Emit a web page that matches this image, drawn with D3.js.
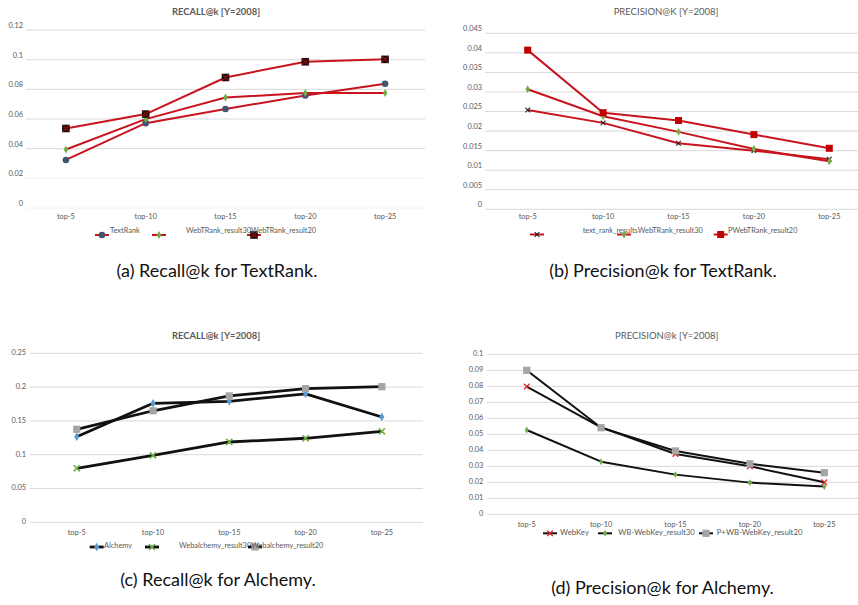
<!DOCTYPE html>
<html><head><meta charset="utf-8">
<script src="https://cdn.jsdelivr.net/npm/d3@7/dist/d3.min.js"></script>
<style>body{margin:0;background:#fff}svg{display:block}text{font-family:Lato,"Open Sans",sans-serif}</style>
</head><body>
<script>
// ---------- data ----------
const categories = ["top-5","top-10","top-15","top-20","top-25"];

// (a) Recall@k for TextRank
const aTitle = "RECALL@k [Y=2008]";
const aTicks = [0,0.02,0.04,0.06,0.08,0.1,0.12];
const aTickLabels = ["0","0.02","0.04","0.06","0.08","0.1","0.12"];
const aNames = ["TextRank","WebTRank_result30","WebTRank_result20"];
const aTextRank   = [0.0324,0.0572,0.0667,0.0759,0.0838];
const aWebTRank30 = [0.0394,0.0599,0.0745,0.0775,0.0775];
const aWebTRank20 = [0.0536,0.0633,0.0880,0.0986,0.1002];
const aCaption = "(a) Recall@k for TextRank.";

// (b) Precision@k for TextRank
const bTitle = "PRECISION@K [Y=2008]";
const bTicks = [0,0.005,0.01,0.015,0.02,0.025,0.03,0.035,0.04,0.045];
const bTickLabels = ["0","0.005","0.01","0.015","0.02","0.025","0.03","0.035","0.04","0.045"];
const bNames = ["text_rank_results","WebTRank_result30","PWebTRank_result20"];
const bTextRank   = [0.0254,0.0221,0.0169,0.0150,0.0128];
const bWebTRank30 = [0.0307,0.0238,0.0198,0.0154,0.0123];
const bWebTRank20 = [0.0407,0.0247,0.0227,0.0191,0.0156];
const bCaption = "(b) Precision@k for TextRank.";

// (c) Recall@k for Alchemy
const cTitle = "RECALL@k [Y=2008]";
const cTicks = [0,0.05,0.1,0.15,0.2,0.25];
const cTickLabels = ["0","0.05","0.1","0.15","0.2","0.25"];
const cNames = ["Alchemy","Webalchemy_result30","Webalchemy_result20"];
const cAlchemy    = [0.1266,0.1760,0.1790,0.1900,0.1558];
const cWebAlch30  = [0.0799,0.0990,0.1188,0.1243,0.1346];
const cWebAlch20  = [0.1376,0.1650,0.1870,0.1977,0.2006];
const cCaption = "(c) Recall@k for Alchemy.";

// (d) Precision@k for Alchemy
const dTitle = "PRECISION@k [Y=2008]";
const dTicks = [0,0.01,0.02,0.03,0.04,0.05,0.06,0.07,0.08,0.09,0.1];
const dTickLabels = ["0","0.01","0.02","0.03","0.04","0.05","0.06","0.07","0.08","0.09","0.1"];
const dNames = ["WebKey","WB-WebKey_result30","P+WB-WebKey_result20"];
const dWebKey     = [0.0798,0.0544,0.0377,0.0300,0.0200];
const dWBWebKey30 = [0.0527,0.0329,0.0248,0.0198,0.0173];
const dPWBWebKey20= [0.0900,0.0541,0.0396,0.0316,0.0260];
const dCaption = "(d) Precision@k for Alchemy.";

// ---------- drawing ----------
const W = 858, H = 605;
const svg = d3.select("body").append("svg").attr("width", W).attr("height", H);
const RED = "#c8141e", BLACK = "#111111";
const GRAY_TXT = "#595959";

function marker(g, kind, x, y) {
  if (kind === "circle") {
    g.append("circle").attr("cx", x).attr("cy", y).attr("r", 3.3).attr("fill", "#44546a");
  } else if (kind === "diamondG") {
    g.append("path").attr("d", d3.symbol(d3.symbolDiamond, 18)()).attr("transform", `translate(${x},${y})`).attr("fill", "#70ad47");
  } else if (kind === "blackX") {
    g.append("rect").attr("x", x-3.8).attr("y", y-3.8).attr("width", 7.6).attr("height", 7.6).attr("fill", "#1a0a0a");
    g.append("path").attr("d", d3.symbol(d3.symbolTimes, 30)()).attr("transform", `translate(${x},${y})`).attr("stroke", "#8a1010").attr("stroke-width", 1.2).attr("fill", "none");
  } else if (kind === "smallX") {
    g.append("path").attr("d", d3.symbol(d3.symbolTimes, 16)()).attr("transform", `translate(${x},${y})`).attr("stroke", "#222").attr("stroke-width", 1.1).attr("fill", "none");
  } else if (kind === "redSquare") {
    g.append("rect").attr("x", x-3.5).attr("y", y-3.5).attr("width", 7).attr("height", 7).attr("fill", "#c00000");
  } else if (kind === "blueDiamond") {
    g.append("path").attr("d", d3.symbol(d3.symbolDiamond, 22)()).attr("transform", `translate(${x},${y})`).attr("fill", "#5b9bd5");
  } else if (kind === "greenX") {
    g.append("path").attr("d", d3.symbol(d3.symbolTimes, 26)()).attr("transform", `translate(${x},${y})`).attr("stroke", "#70ad47").attr("stroke-width", 1.6).attr("fill", "none");
  } else if (kind === "graySquare") {
    g.append("rect").attr("x", x-3.6).attr("y", y-3.6).attr("width", 7.2).attr("height", 7.2).attr("fill", "#a5a5a5");
  } else if (kind === "redX") {
    g.append("path").attr("d", d3.symbol(d3.symbolTimes, 22)()).attr("transform", `translate(${x},${y})`).attr("stroke", "#e02020").attr("stroke-width", 1.3).attr("fill", "none");
  } else if (kind === "smallGreen") {
    g.append("path").attr("d", d3.symbol(d3.symbolDiamond, 14)()).attr("transform", `translate(${x},${y})`).attr("fill", "#70ad47");
  }
}

function panel(p) {
  const g = svg.append("g");
  const x = d3.scalePoint().domain(categories).range(p.xRange).padding(0.5);
  const y = d3.scaleLinear().domain([0, p.ticks[p.ticks.length-1]]).range(p.yRange);
  // gridlines
  g.selectAll(".grid").data(p.ticks).enter().append("line")
    .attr("x1", p.gridX[0]).attr("x2", p.gridX[1])
    .attr("y1", d => y(d)).attr("y2", d => y(d))
    .attr("stroke", (d,i) => (p.faint && p.faint.includes(i)) ? "#f2f2f2" : "#d9d9d9").attr("stroke-width", 1);
  // y labels
  g.selectAll(".yl").data(p.ticks).enter().append("text")
    .attr("x", p.labelX).attr("y", d => y(d) + p.labelDy)
    .attr("text-anchor", "end").attr("dominant-baseline", "middle")
    .attr("font-size", p.fs).attr("fill", GRAY_TXT)
    .text((d,i) => p.tickLabels[i]);
  // x labels
  g.selectAll(".xl").data(categories).enter().append("text")
    .attr("x", d => x(d)).attr("y", p.catY).attr("text-anchor", "middle").attr("dominant-baseline", "middle")
    .attr("font-size", p.fs).attr("fill", GRAY_TXT).text(d => d);
  // title
  g.append("text").attr("x", p.titleX).attr("y", p.titleY).attr("text-anchor", "middle")
    .attr("dominant-baseline", "middle").attr("font-size", p.titleFs).attr("font-weight", p.titleBold ? "bold" : "normal")
    .attr("fill", GRAY_TXT).text(p.title);
  // series
  const line = d3.line().x((d,i) => x(categories[i])).y(d => y(d));
  p.series.forEach(s => {
    g.append("path").datum(s.values).attr("d", line).attr("fill", "none")
      .attr("stroke", p.lineColor).attr("stroke-width", p.lineW).attr("stroke-linejoin", "round");
  });
  p.series.forEach(s => {
    s.values.forEach((v,i) => marker(g, s.marker, x(categories[i]), y(v)));
  });
  // legend
  let prevEnd = 0;
  p.series.forEach((s, i) => {
    const L = p.legend[i];
    g.append("line").attr("x1", L.mx - 7).attr("x2", L.mx + 7).attr("y1", p.legendY + L.mdy).attr("y2", p.legendY + L.mdy)
      .attr("stroke", p.lineColor).attr("stroke-width", p.lineW);
    marker(g, s.marker, L.mx, p.legendY + L.mdy);
    const tx = L.chain ? prevEnd : L.tx;
    const t = g.append("text").attr("x", tx).attr("y", p.legendY).attr("dominant-baseline", "middle")
      .attr("font-size", p.legendFs).attr("fill", GRAY_TXT).text(s.name);
    prevEnd = tx + t.node().getComputedTextLength();
  });
  // caption
  g.append("text").attr("x", p.capX).attr("y", p.capY).attr("text-anchor", "middle")
    .attr("font-size", 18).attr("fill", "#111").text(p.caption);
}

panel({
  title: aTitle, titleX: 216, titleY: 12.5, titleBold: true, titleFs: 9.4,
  ticks: aTicks, tickLabels: aTickLabels, faint: [0,1],
  xRange: [26, 425], gridX: [26, 425], yRange: [208, 30],
  labelX: 23, labelDy: -4, catY: 217, fs: 7.4,
  lineColor: RED, lineW: 2,
  series: [
    {name: aNames[0], values: aTextRank, marker: "circle"},
    {name: aNames[1], values: aWebTRank30, marker: "diamondG"},
    {name: aNames[2], values: aWebTRank20, marker: "blackX"}
  ],
  legendY: 231.5, legendFs: 7.4,
  legend: [{mx: 102, mdy: 3.5, tx: 110}, {mx: 159, mdy: 3.5, tx: 186}, {mx: 254, mdy: 3.5, chain: true}],
  caption: aCaption, capX: 217, capY: 277
});

panel({
  title: bTitle, titleX: 666, titleY: 12.5, titleBold: false, titleFs: 9.5,
  ticks: bTicks, tickLabels: bTickLabels,
  xRange: [490, 867], gridX: [485, 858], yRange: [209.3, 33.3],
  labelX: 482, labelDy: -4, catY: 216.7, fs: 7.4,
  lineColor: RED, lineW: 2,
  series: [
    {name: bNames[0], values: bTextRank, marker: "smallX"},
    {name: bNames[1], values: bWebTRank30, marker: "diamondG"},
    {name: bNames[2], values: bWebTRank20, marker: "redSquare"}
  ],
  legendY: 231.5, legendFs: 7.4,
  legend: [{mx: 537, mdy: 3, tx: 582.7}, {mx: 624, mdy: 3, chain: true}, {mx: 720.7, mdy: 3, tx: 728}],
  caption: bCaption, capX: 663, capY: 277
});

panel({
  title: cTitle, titleX: 216, titleY: 336.7, titleBold: true, titleFs: 9.4,
  ticks: cTicks, tickLabels: cTickLabels,
  xRange: [38.6, 420], gridX: [30, 423], yRange: [522.3, 353.3],
  labelX: 26, labelDy: 0, catY: 533.3, fs: 7.4,
  lineColor: BLACK, lineW: 2.8,
  series: [
    {name: cNames[0], values: cAlchemy, marker: "blueDiamond"},
    {name: cNames[1], values: cWebAlch30, marker: "greenX"},
    {name: cNames[2], values: cWebAlch20, marker: "graySquare"}
  ],
  legendY: 546, legendFs: 7.4,
  legend: [{mx: 96.7, mdy: 1, tx: 104}, {mx: 152, mdy: 1, tx: 179}, {mx: 255, mdy: 1, chain: true}],
  caption: cCaption, capX: 218, capY: 586
});

panel({
  title: dTitle, titleX: 666.7, titleY: 336.7, titleBold: false, titleFs: 9.5,
  ticks: dTicks, tickLabels: dTickLabels,
  xRange: [489.5, 861.5], gridX: [487.3, 858], yRange: [514.3, 354.3],
  labelX: 483.3, labelDy: 0, catY: 524.7, fs: 7.4,
  lineColor: BLACK, lineW: 2,
  series: [
    {name: dNames[0], values: dWebKey, marker: "redX"},
    {name: dNames[1], values: dWBWebKey30, marker: "smallGreen"},
    {name: dNames[2], values: dPWBWebKey20, marker: "graySquare"}
  ],
  legendY: 533.3, legendFs: 7.8,
  legend: [{mx: 550, mdy: 0, tx: 560}, {mx: 605, mdy: 0, tx: 618.3}, {mx: 706, mdy: 0, tx: 716.7}],
  caption: dCaption, capX: 662.5, capY: 594
});
</script>
</body></html>
